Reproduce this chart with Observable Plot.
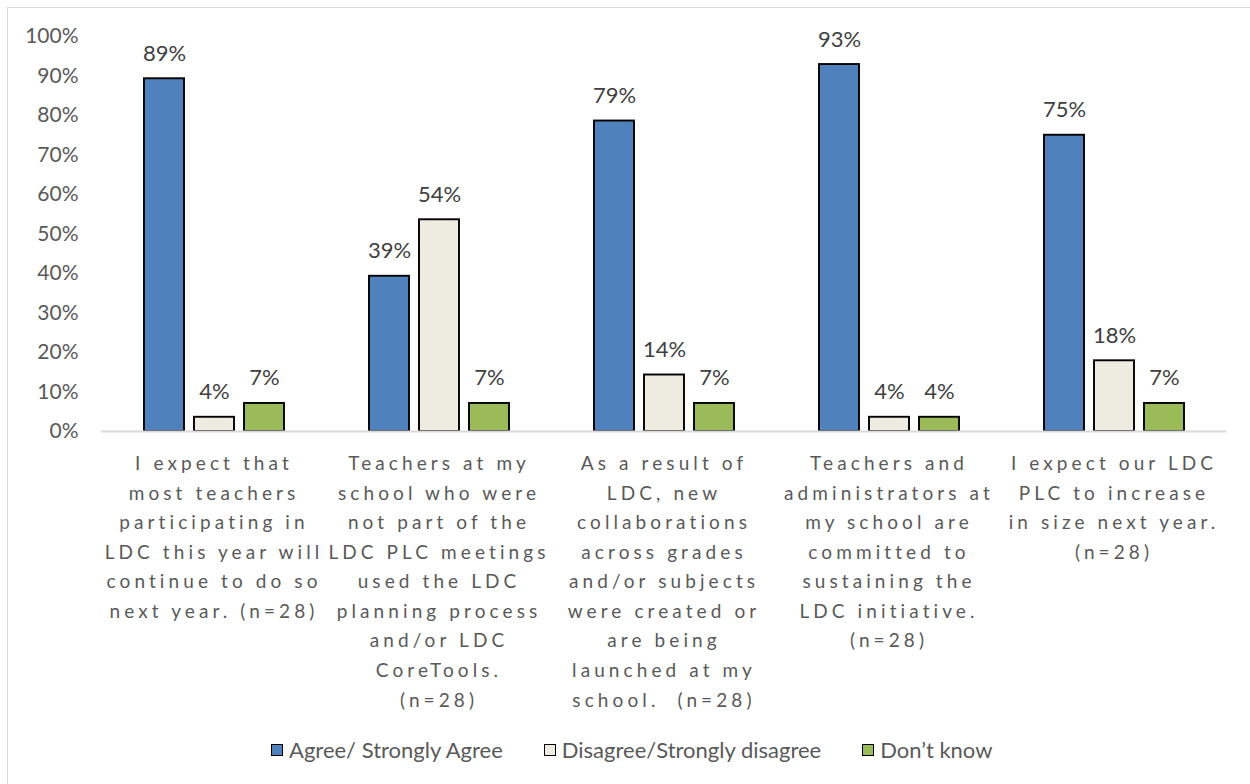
<!DOCTYPE html>
<html><head><meta charset="utf-8">
<script src="https://cdn.jsdelivr.net/npm/d3@7"></script>
<script src="https://cdn.jsdelivr.net/npm/@observablehq/plot@0.6"></script>
<style>
html,body{margin:0;padding:0;background:#fff;}
#wrap{position:relative;width:1250px;height:784px;overflow:hidden;background:#fff;font-family:Lato,sans-serif;}
#frame{position:absolute;left:7px;top:7px;width:1300px;height:900px;border:1px solid #d9d9d9;box-sizing:border-box;}
#chart{position:absolute;left:0;top:0;}
#legend{position:absolute;top:736px;left:271px;display:flex;justify-content:flex-start;gap:41px;font-size:22px;color:#595959;line-height:28px;white-space:nowrap;}
.item{display:flex;align-items:center;gap:6px;}
.sw{width:10px;height:10px;border:1.75px solid #000;}
</style></head><body>
<div id="wrap"><div id="frame"></div><div id="chart"></div><div id="legend"></div></div>
<script>
const categories = [
  "I expect that\nmost teachers\nparticipating in\nLDC this year will\ncontinue to do so\nnext year. (n=28)",
  "Teachers at my\nschool who were\nnot part of the\nLDC PLC meetings\nused the LDC\nplanning process\nand/or LDC\nCoreTools.\n(n=28)",
  "As a result of\nLDC, new\ncollaborations\nacross grades\nand/or subjects\nwere created or\nare being\nlaunched at my\nschool.  (n=28)",
  "Teachers and\nadministrators at\nmy school are\ncommitted to\nsustaining the\nLDC initiative.\n(n=28)",
  "I expect our LDC\nPLC to increase\nin size next year.\n(n=28)"
];
const series = ["Agree/ Strongly Agree", "Disagree/Strongly disagree", "Don\u2019t know"];
const agree    = [0.893, 0.393, 0.786, 0.929, 0.750];
const disagree = [0.036, 0.536, 0.143, 0.036, 0.179];
const dontKnow = [0.071, 0.071, 0.071, 0.036, 0.071];
const colors = ["#4F81BD", "#EEECE1", "#9BBB59"];
const yTicks = [0, 0.1, 0.2, 0.3, 0.4, 0.5, 0.6, 0.7, 0.8, 0.9, 1.0];

const seriesValues = [agree, disagree, dontKnow];
const data = [];
categories.forEach((c, i) => {
  series.forEach((s, j) => data.push({category: c, series: s, value: seriesValues[j][i]}));
});
const pct = d3.format(".0%");

const chart = Plot.plot({
  width: 1250, height: 720,
  marginLeft: 100, marginRight: 24, marginTop: 36, marginBottom: 289,
  style: {fontFamily: "Lato, sans-serif", background: "transparent", overflow: "visible"},
  fx: {domain: categories, padding: 0, axis: null},
  x: {domain: series, paddingInner: 0.2, paddingOuter: 0.85, axis: null},
  y: {domain: [0, 1], axis: null},
  color: {domain: series, range: colors},
  marks: [
    Plot.axisY({ticks: yTicks, tickFormat: pct, tickSize: 0, tickPadding: 23, fontSize: 21, color: "#595959", label: null}),
    Plot.barY(data, {fx: "category", x: "series", y: "value", fill: "series", stroke: "#000", strokeWidth: 1.9}),
    Plot.ruleY([0], {stroke: "#d9d9d9", strokeWidth: 2}),
    Plot.text(data, {fx: "category", x: "series", y: "value", text: d => pct(d.value), lineAnchor: "bottom", dy: -18, fontSize: 22, fill: "#404040"}),
    Plot.text(categories, {fx: d => d, text: d => d, frameAnchor: "bottom", lineAnchor: "top", dy: 18, fontSize: 19, lineHeight: 1.553, fill: "#595959"})
  ]
});
document.getElementById("chart").appendChild(chart);
d3.select(chart).selectAll("text")
  .filter(function () { return this.textContent.includes("(n=28)"); })
  .style("letter-spacing", "4.1px");

const legend = document.getElementById("legend");
series.forEach((s, j) => {
  const item = document.createElement("div");
  item.className = "item";
  const sw = document.createElement("span");
  sw.className = "sw";
  sw.style.background = colors[j];
  const t = document.createElement("span");
  t.textContent = s;
  item.appendChild(sw); item.appendChild(t);
  legend.appendChild(item);
});
</script>
</body></html>
